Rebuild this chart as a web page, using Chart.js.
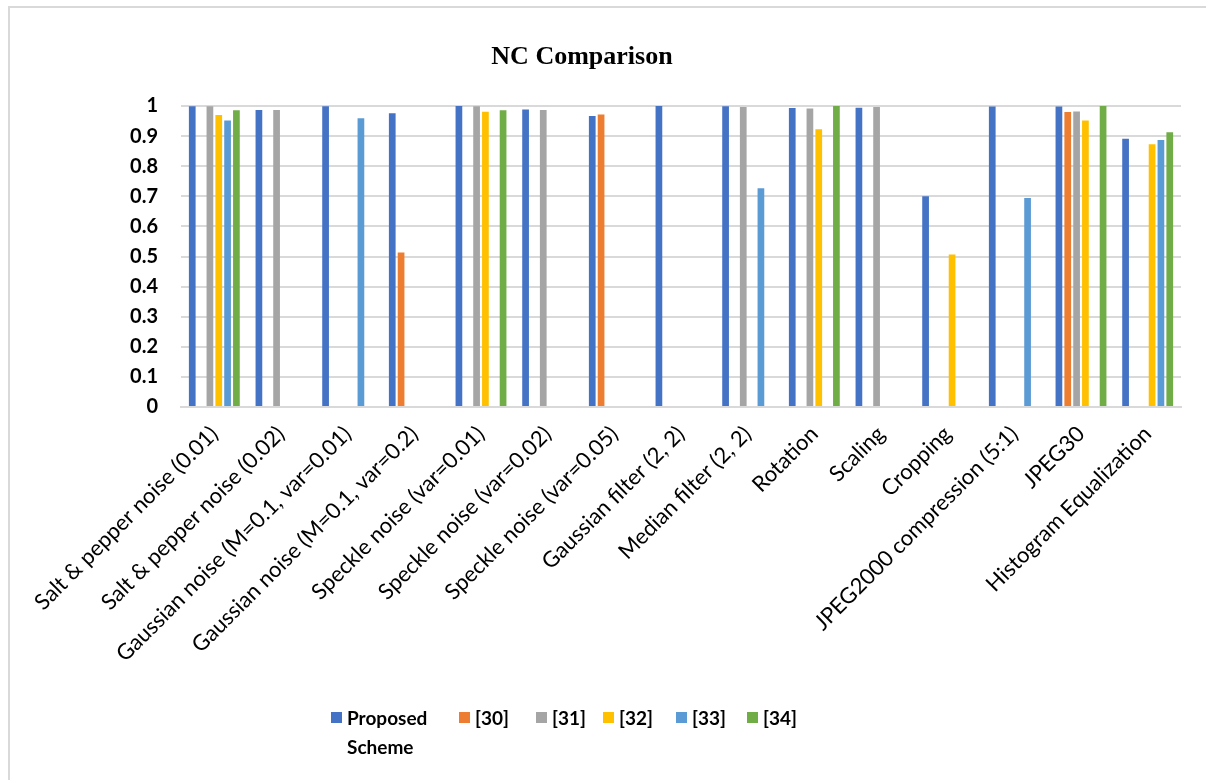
<!DOCTYPE html>
<html>
<head>
<meta charset="utf-8">
<script src="https://cdn.jsdelivr.net/npm/chart.js@4.4.1/dist/chart.umd.min.js"></script>
<style>
  html, body { margin: 0; padding: 0; background: #fff; overflow: hidden; }
  #wrap { position: relative; width: 1206px; height: 780px; }
  #frame { position: absolute; left: 8px; top: 6px; width: 1300px; height: 900px; border: 2px solid #d9d9d9; box-sizing: border-box; }
  #title { position: absolute; left: 382px; width: 400px; top: 41px; text-align: center; font-family: "Liberation Serif", "Times New Roman", serif; font-weight: bold; font-size: 26px; color: #000; }
  canvas { position: absolute; left: 0; top: 0; }
  .lg { position: absolute; font-family: Lato, "Open Sans", sans-serif; font-weight: bold; font-size: 19px; color: #000; line-height: 29px; }
  .sw { position: absolute; width: 11px; height: 11px; }
</style>
</head>
<body>
<div id="wrap">
  <div id="frame"></div>
  <canvas id="c" width="1206" height="780"></canvas>
  <div id="title">NC Comparison</div>
  <div id="legend"></div>
</div>
<script>
const categories = [
  "Salt & pepper noise (0.01)",
  "Salt & pepper noise (0.02)",
  "Gaussian noise (M=0.1, var=0.01)",
  "Gaussian noise (M=0.1, var=0.2)",
  "Speckle noise (var=0.01)",
  "Speckle noise (var=0.02)",
  "Speckle noise (var=0.05)",
  "Gaussian filter (2, 2)",
  "Median filter (2, 2)",
  "Rotation",
  "Scaling",
  "Cropping",
  "JPEG2000 compression (5:1)",
  "JPEG30",
  "Histogram Equalization"
];
const seriesNames = ["Proposed Scheme", "[30]", "[31]", "[32]", "[33]", "[34]"];
const seriesColors = ["#4472C4", "#ED7D31", "#A5A5A5", "#FFC000", "#5B9BD5", "#70AD47"];

const proposed = [0.999, 0.987, 0.999, 0.976, 1.0, 0.988, 0.967, 1.0, 0.999, 0.993, 0.994, 0.700, 0.998, 0.998, 0.891];
const ref30    = [null, null, null, 0.513, null, null, 0.972, null, null, null, null, null, null, 0.980, null];
const ref31    = [0.999, 0.987, null, null, 0.999, 0.987, null, null, 0.997, 0.992, 0.997, null, null, 0.982, null];
const ref32    = [0.970, null, null, null, 0.981, null, null, null, null, 0.923, null, 0.507, null, 0.952, 0.873];
const ref33    = [0.952, null, 0.959, null, null, null, null, null, 0.727, null, null, null, 0.694, null, 0.887];
const ref34    = [0.986, null, null, null, 0.986, null, null, null, null, 1.0, null, null, null, 1.0, 0.913];

const yTicks = [0, 0.1, 0.2, 0.3, 0.4, 0.5, 0.6, 0.7, 0.8, 0.9, 1];

const seriesData = [proposed, ref30, ref31, ref32, ref33, ref34];

const PLOT_LEFT = 181, PLOT_RIGHT = 1181, PLOT_TOP = 106, PLOT_BOTTOM = 407;

const chart = new Chart(document.getElementById('c'), {
  type: 'bar',
  data: {
    labels: categories,
    datasets: seriesNames.map((n, i) => ({
      label: n,
      data: seriesData[i],
      backgroundColor: seriesColors[i],
      borderWidth: 0,
      categoryPercentage: 0.795,
      barPercentage: 0.76
    }))
  },
  options: {
    responsive: false,
    animation: false,
    devicePixelRatio: 1,
    layout: { padding: { left: 0, right: 1206 - PLOT_RIGHT, top: PLOT_TOP, bottom: 0 } },
    plugins: { legend: { display: false }, title: { display: false }, tooltip: { enabled: false } },
    scales: {
      x: {
        offset: true,
        grid: { display: false, drawTicks: false },
        border: { display: true, color: '#d9d9d9', width: 2 },
        ticks: {
          autoSkip: false, minRotation: 45, maxRotation: 45, padding: 14,
          color: '#000', font: { family: 'Lato', size: 22 }
        },
        afterFit: s => { s.height = 780 - PLOT_BOTTOM; }
      },
      y: {
        min: 0, max: 1,
        afterBuildTicks: s => { s.ticks = yTicks.map(v => ({ value: v })); },
        grid: { color: '#d9d9d9', lineWidth: 2, drawTicks: false },
        border: { display: false },
        ticks: {
          padding: 23, color: '#000',
          font: { family: 'Lato', size: 20, weight: 'bold' },
          callback: v => String(v)
        },
        afterFit: s => { s.width = PLOT_LEFT; }
      }
    }
  }
});

// HTML legend built from series names/colours
const legendPos = [331, 459, 536, 603, 676, 747];
const lg = document.getElementById('legend');
seriesNames.forEach((n, i) => {
  const sw = document.createElement('div');
  sw.className = 'sw';
  sw.style.left = legendPos[i] + 'px';
  sw.style.top = '712px';
  sw.style.background = seriesColors[i];
  lg.appendChild(sw);
  const t = document.createElement('div');
  t.className = 'lg';
  t.style.left = (legendPos[i] + 16) + 'px';
  t.style.top = '703px';
  t.innerHTML = i === 0 ? 'Proposed<br>Scheme' : n;
  lg.appendChild(t);
});
</script>
</body>
</html>
